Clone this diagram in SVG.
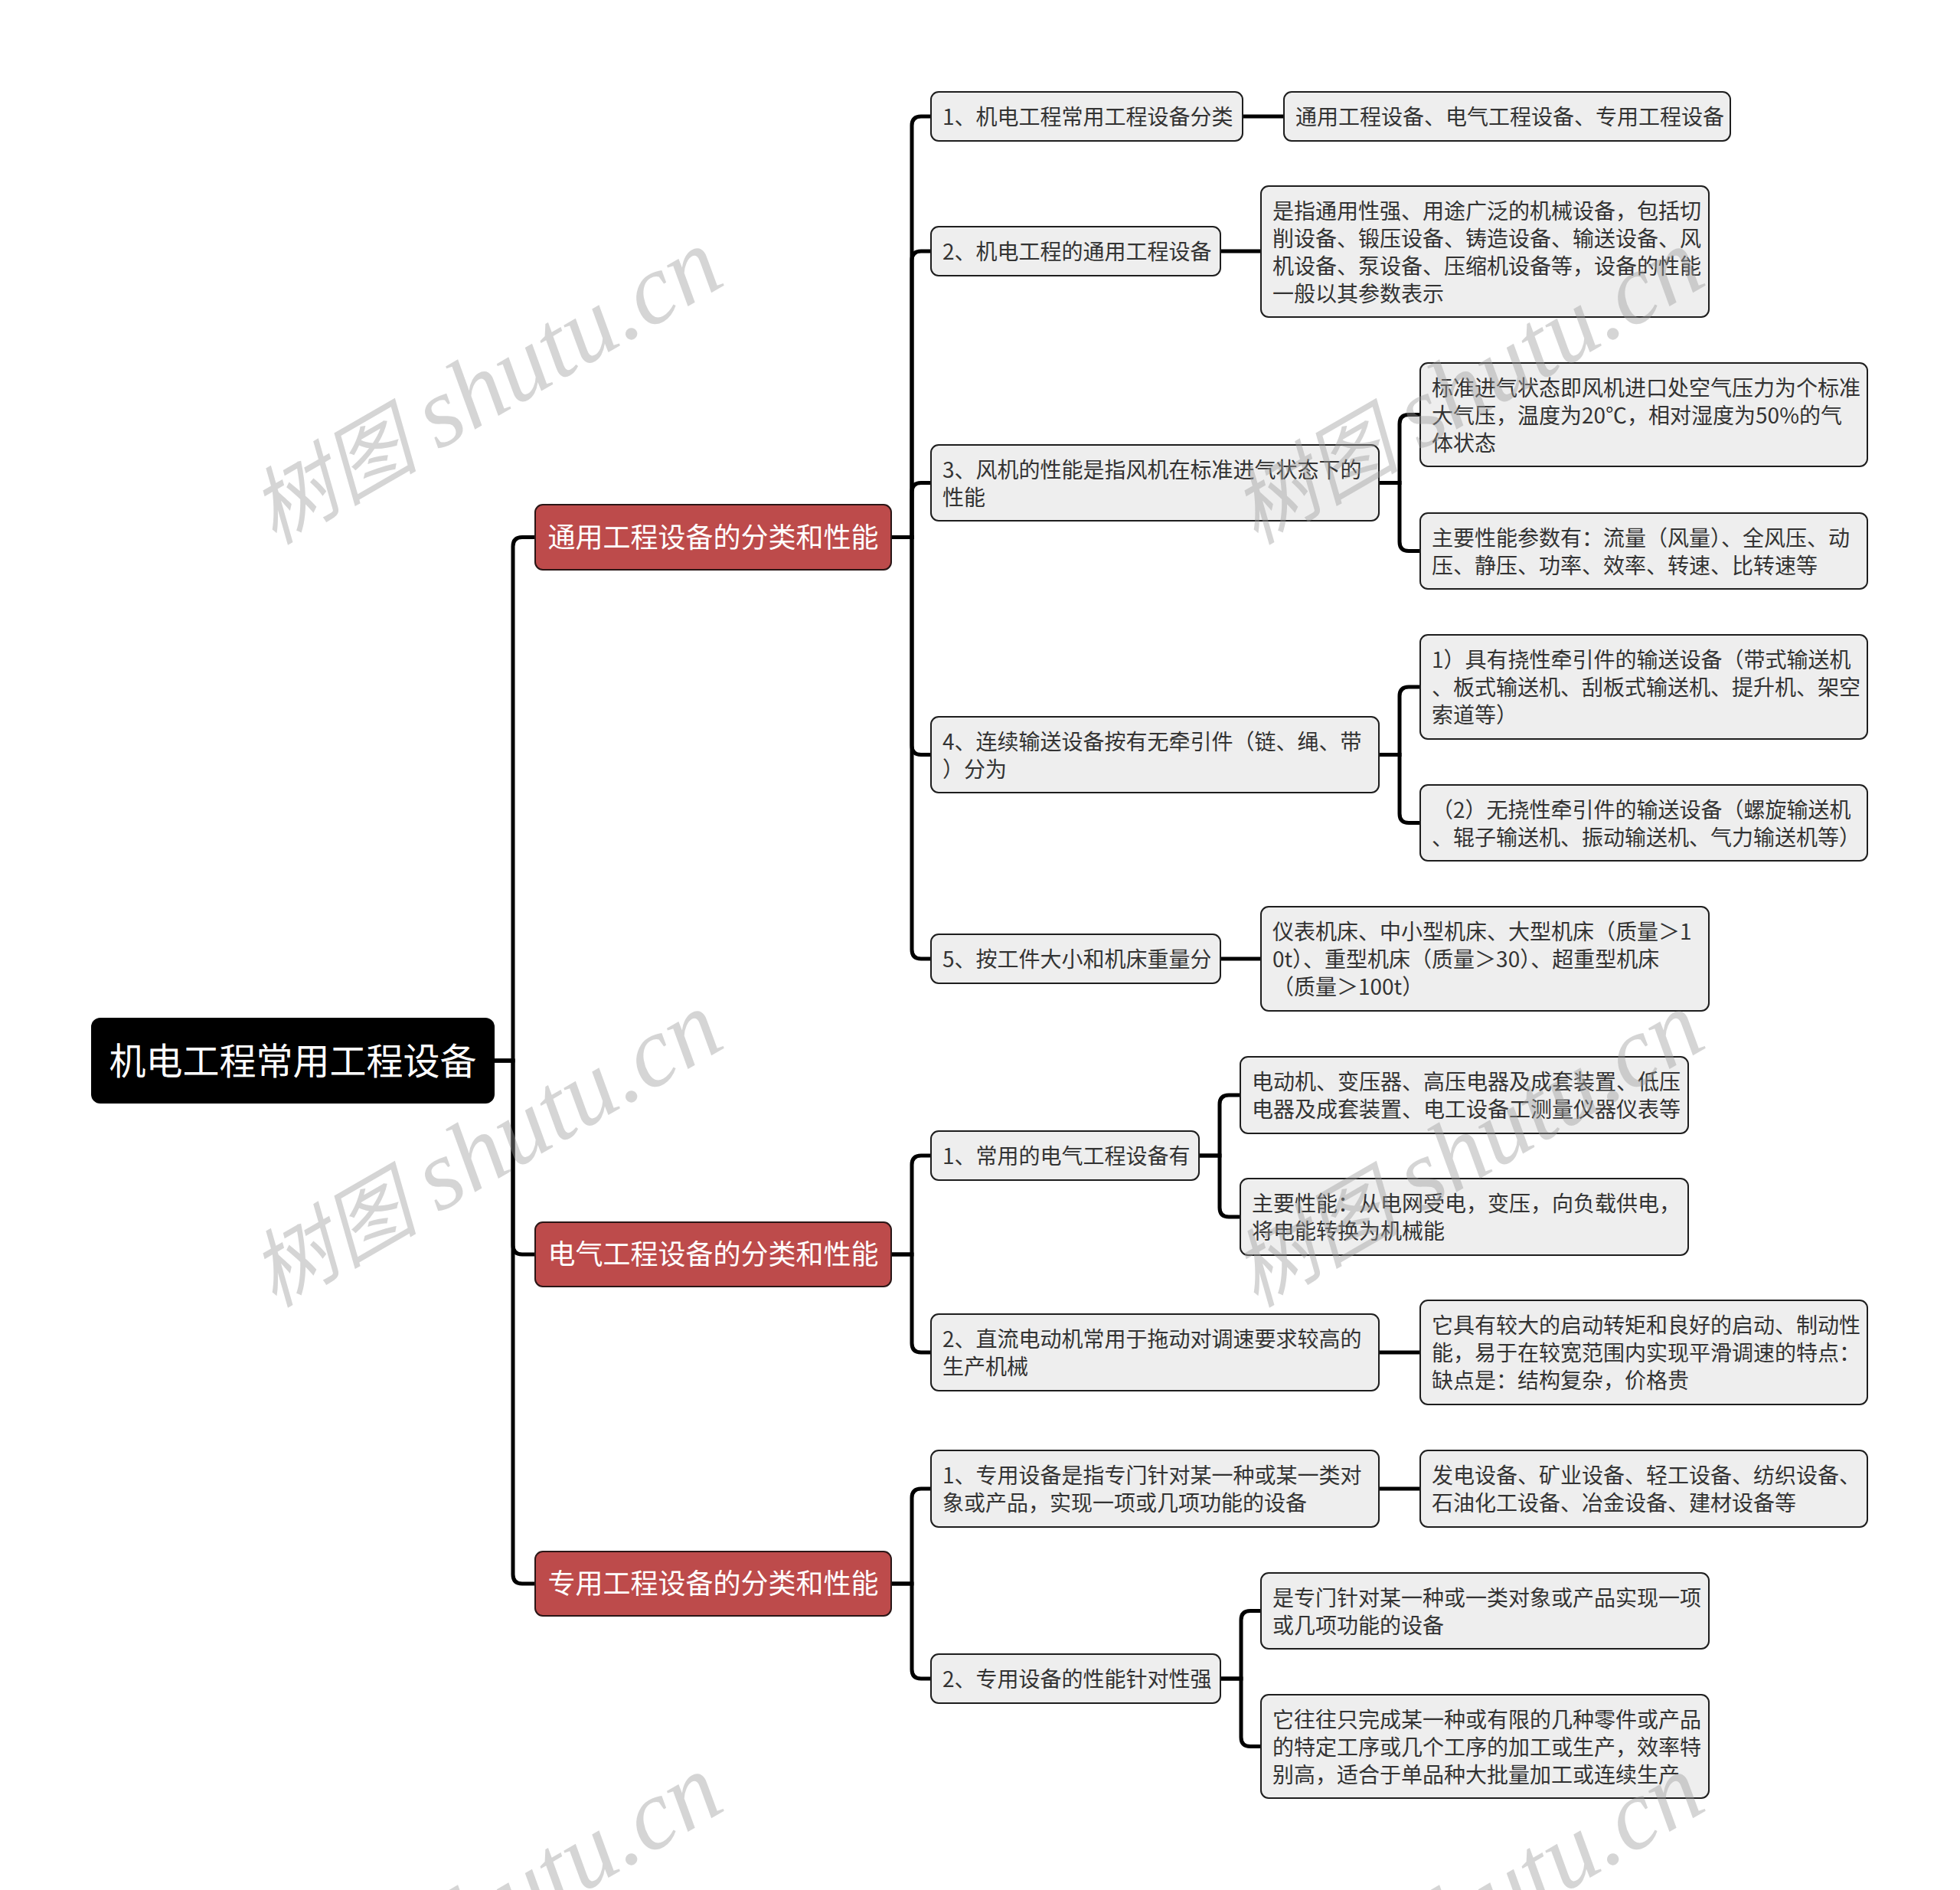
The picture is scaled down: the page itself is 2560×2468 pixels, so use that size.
<svg xmlns="http://www.w3.org/2000/svg" width="2560" height="2468" viewBox="0 0 2560 2468">
<style>
text { font-family: "Noto Sans CJK SC", "Noto Sans", sans-serif; }
.g rect { fill: #eeeeee; stroke: #1e1e1e; stroke-width: 2; }
.g text { font-size: 28px; fill: #333333; }
.red rect { fill: #bd4b4b; stroke: #2a1616; stroke-width: 2; }
.red text { font-size: 36px; fill: #ffffff; text-anchor: middle; }
.root rect { fill: #000000; }
.root text { font-size: 48px; fill: #ffffff; text-anchor: middle; }
#connectors path { fill: none; stroke: #000000; stroke-width: 5; }
.wm { font-family: "Liberation Serif", "Noto Sans CJK SC", serif; font-style: italic; font-size: 110px; fill: #9a9a9a; fill-opacity: 0.42; }
.wm tspan { font-size: 130px; }
</style>
<rect width="2560" height="2468" fill="#ffffff"/>

<g id="connectors">
<path d="M646 1385 H670 V713.5 Q670 701.5 682 701.5 H699"/>
<path d="M646 1385 H670 V1626 Q670 1638 682 1638 H699"/>
<path d="M646 1385 H670 V2056 Q670 2068 682 2068 H699"/>
<path d="M1164 701.5 H1191 V164 Q1191 152 1203 152 H1216"/>
<path d="M1164 701.5 H1191 V340 Q1191 328 1203 328 H1216"/>
<path d="M1164 701.5 H1191 V642.5 Q1191 630.5 1203 630.5 H1216"/>
<path d="M1164 701.5 H1191 V973.5 Q1191 985.5 1203 985.5 H1216"/>
<path d="M1164 701.5 H1191 V1240 Q1191 1252 1203 1252 H1216"/>
<path d="M1164 1638 H1191 V1521 Q1191 1509 1203 1509 H1216"/>
<path d="M1164 1638 H1191 V1754 Q1191 1766 1203 1766 H1216"/>
<path d="M1164 2068 H1191 V1956 Q1191 1944 1203 1944 H1216"/>
<path d="M1164 2068 H1191 V2180 Q1191 2192 1203 2192 H1216"/>
<path d="M1623 152 H1677"/>
<path d="M1594 328 H1647"/>
<path d="M1801 630.5 H1828 V553.5 Q1828 541.5 1840 541.5 H1855"/>
<path d="M1801 630.5 H1828 V707.5 Q1828 719.5 1840 719.5 H1855"/>
<path d="M1801 985.5 H1828 V909 Q1828 897 1840 897 H1855"/>
<path d="M1801 985.5 H1828 V1062.5 Q1828 1074.5 1840 1074.5 H1855"/>
<path d="M1594 1252 H1647"/>
<path d="M1566 1509 H1593 V1442 Q1593 1430 1605 1430 H1620"/>
<path d="M1566 1509 H1593 V1577 Q1593 1589 1605 1589 H1620"/>
<path d="M1801 1766 H1855"/>
<path d="M1801 1944 H1855"/>
<path d="M1594 2192 H1621 V2115.5 Q1621 2103.5 1633 2103.5 H1647"/>
<path d="M1594 2192 H1621 V2268.5 Q1621 2280.5 1633 2280.5 H1647"/>
</g>

<g id="root" class="root">
<rect x="119" y="1329" width="527" height="112" rx="12"/>
<text x="382.5" y="1403">机电工程常用工程设备</text>
</g>

<g id="n1" class="red">
<rect x="699" y="659" width="465" height="85" rx="10"/>
<text x="931.5" y="715">通用工程设备的分类和性能</text>
</g>
<g id="n2" class="red">
<rect x="699" y="1596" width="465" height="84" rx="10"/>
<text x="931.5" y="1651">电气工程设备的分类和性能</text>
</g>
<g id="n3" class="red">
<rect x="699" y="2026" width="465" height="84" rx="10"/>
<text x="931.5" y="2081">专用工程设备的分类和性能</text>
</g>

<g id="n1-1" class="g">
<rect x="1216" y="120" width="407" height="64" rx="10"/>
<text x="1231" y="163">1、机电工程常用工程设备分类</text>
</g>
<g id="n1-1-1" class="g">
<rect x="1677" y="120" width="583" height="64" rx="10"/>
<text x="1692" y="163">通用工程设备、电气工程设备、专用工程设备</text>
</g>
<g id="n1-2" class="g">
<rect x="1216" y="296" width="378" height="64" rx="10"/>
<text x="1231" y="339">2、机电工程的通用工程设备</text>
</g>
<g id="n1-2-1" class="g">
<rect x="1647" y="243" width="585" height="171" rx="10"/>
<text x="1662" y="286">是指通用性强、用途广泛的机械设备，包括切<tspan x="1662" dy="36">削设备、锻压设备、铸造设备、输送设备、风</tspan><tspan x="1662" dy="36">机设备、泵设备、压缩机设备等，设备的性能</tspan><tspan x="1662" dy="36">一般以其参数表示</tspan></text>
</g>
<g id="n1-3" class="g">
<rect x="1216" y="581" width="585" height="99" rx="10"/>
<text x="1231" y="624">3、风机的性能是指风机在标准进气状态下的<tspan x="1231" dy="36">性能</tspan></text>
</g>
<g id="n1-3-1" class="g">
<rect x="1855" y="474" width="584" height="135" rx="10"/>
<text x="1870" y="517">标准进气状态即风机进口处空气压力为个标准<tspan x="1870" dy="36">大气压，温度为20℃，相对湿度为50%的气</tspan><tspan x="1870" dy="36">体状态</tspan></text>
</g>
<g id="n1-3-2" class="g">
<rect x="1855" y="670" width="584" height="99" rx="10"/>
<text x="1870" y="713">主要性能参数有：流量（风量）、全风压、动<tspan x="1870" dy="36">压、静压、功率、效率、转速、比转速等</tspan></text>
</g>
<g id="n1-4" class="g">
<rect x="1216" y="936" width="585" height="99" rx="10"/>
<text x="1231" y="979">4、连续输送设备按有无牵引件（链、绳、带<tspan x="1231" dy="36">）分为</tspan></text>
</g>
<g id="n1-4-1" class="g">
<rect x="1855" y="829" width="584" height="136" rx="10"/>
<text x="1870" y="872">1）具有挠性牵引件的输送设备（带式输送机<tspan x="1870" dy="36">、板式输送机、刮板式输送机、提升机、架空</tspan><tspan x="1870" dy="36">索道等）</tspan></text>
</g>
<g id="n1-4-2" class="g">
<rect x="1855" y="1025" width="584" height="99" rx="10"/>
<text x="1870" y="1068">（2）无挠性牵引件的输送设备（螺旋输送机<tspan x="1870" dy="36">、辊子输送机、振动输送机、气力输送机等）</tspan></text>
</g>
<g id="n1-5" class="g">
<rect x="1216" y="1220" width="378" height="64" rx="10"/>
<text x="1231" y="1263">5、按工件大小和机床重量分</text>
</g>
<g id="n1-5-1" class="g">
<rect x="1647" y="1184" width="585" height="136" rx="10"/>
<text x="1662" y="1227">仪表机床、中小型机床、大型机床（质量＞1<tspan x="1662" dy="36">0t）、重型机床（质量＞30）、超重型机床</tspan><tspan x="1662" dy="36">（质量＞100t）</tspan></text>
</g>

<g id="n2-1" class="g">
<rect x="1216" y="1477" width="350" height="64" rx="10"/>
<text x="1231" y="1520">1、常用的电气工程设备有</text>
</g>
<g id="n2-1-1" class="g">
<rect x="1620" y="1380" width="585" height="100" rx="10"/>
<text x="1635" y="1423">电动机、变压器、高压电器及成套装置、低压<tspan x="1635" dy="36">电器及成套装置、电工设备工测量仪器仪表等</tspan></text>
</g>
<g id="n2-1-2" class="g">
<rect x="1620" y="1539" width="585" height="100" rx="10"/>
<text x="1635" y="1582">主要性能：从电网受电，变压，向负载供电，<tspan x="1635" dy="36">将电能转换为机械能</tspan></text>
</g>
<g id="n2-2" class="g">
<rect x="1216" y="1716" width="585" height="100" rx="10"/>
<text x="1231" y="1759">2、直流电动机常用于拖动对调速要求较高的<tspan x="1231" dy="36">生产机械</tspan></text>
</g>
<g id="n2-2-1" class="g">
<rect x="1855" y="1698" width="584" height="136" rx="10"/>
<text x="1870" y="1741">它具有较大的启动转矩和良好的启动、制动性<tspan x="1870" dy="36">能，易于在较宽范围内实现平滑调速的特点：</tspan><tspan x="1870" dy="36">缺点是：结构复杂，价格贵</tspan></text>
</g>

<g id="n3-1" class="g">
<rect x="1216" y="1894" width="585" height="100" rx="10"/>
<text x="1231" y="1937">1、专用设备是指专门针对某一种或某一类对<tspan x="1231" dy="36">象或产品，实现一项或几项功能的设备</tspan></text>
</g>
<g id="n3-1-1" class="g">
<rect x="1855" y="1894" width="584" height="100" rx="10"/>
<text x="1870" y="1937">发电设备、矿业设备、轻工设备、纺织设备、<tspan x="1870" dy="36">石油化工设备、冶金设备、建材设备等</tspan></text>
</g>
<g id="n3-2" class="g">
<rect x="1216" y="2160" width="378" height="64" rx="10"/>
<text x="1231" y="2203">2、专用设备的性能针对性强</text>
</g>
<g id="n3-2-1" class="g">
<rect x="1647" y="2054" width="585" height="99" rx="10"/>
<text x="1662" y="2097">是专门针对某一种或一类对象或产品实现一项<tspan x="1662" dy="36">或几项功能的设备</tspan></text>
</g>
<g id="n3-2-2" class="g">
<rect x="1647" y="2213" width="585" height="135" rx="10"/>
<text x="1662" y="2256">它往往只完成某一种或有限的几种零件或产品<tspan x="1662" dy="36">的特定工序或几个工序的加工或生产，效率特</tspan><tspan x="1662" dy="36">别高，适合于单品种大批量加工或连续生产</tspan></text>
</g>

<g id="watermarks">
<text class="wm" transform="translate(358 712) rotate(-30)">树图 <tspan>shutu.cn</tspan></text>
<text class="wm" transform="translate(1640 712) rotate(-30)">树图 <tspan>shutu.cn</tspan></text>
<text class="wm" transform="translate(358 1708) rotate(-30)">树图 <tspan>shutu.cn</tspan></text>
<text class="wm" transform="translate(1640 1708) rotate(-30)">树图 <tspan>shutu.cn</tspan></text>
<text class="wm" transform="translate(358 2704) rotate(-30)">树图 <tspan>shutu.cn</tspan></text>
<text class="wm" transform="translate(1640 2704) rotate(-30)">树图 <tspan>shutu.cn</tspan></text>
</g>
</svg>
